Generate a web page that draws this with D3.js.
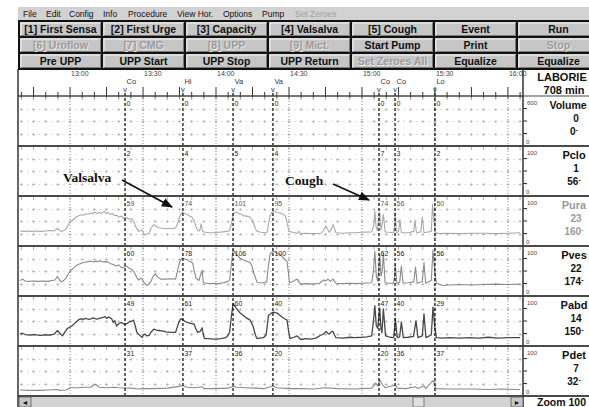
<!DOCTYPE html>
<html><head><meta charset="utf-8">
<script src="https://cdn.jsdelivr.net/npm/d3@7/dist/d3.min.js"></script>
<style>
html,body{margin:0;padding:0;background:#fff;overflow:hidden;}
svg{display:block;font-family:Arial,"Liberation Sans",sans-serif;}
</style></head><body>
<svg id="chart" width="589" height="407"></svg>
<script>
// ---------- data ----------
const menuItems = ["File","Edit","Config","Info","Procedure","View Hor.","Options","Pump","Set Zeroes"];
const menuX = [23,46,69,103,128,177,223,262,295];
const menuEnabled = [1,1,1,1,1,1,1,1,0];

const buttonRows = [
  ["[1] First Sensa","[2] First Urge","[3] Capacity","[4] Valsalva","[5] Cough","Event","Run"],
  ["[6] Uroflow","[7] CMG","[8] UPP","[9] Mict.","Start Pump","Print","Stop"],
  ["Pre UPP","UPP Start","UPP Stop","UPP Return","Set Zeroes All","Equalize","Equalize"]
];
const buttonEnabled = [[1,1,1,1,1,1,1],[0,0,0,0,1,1,0],[1,1,1,1,0,1,1]];

// time axis, minutes after 12:00
const timeDomain = [38.6, 246.2];
const timeTicks = [60, 90, 120, 150, 180, 210, 240];
const timeLabels = ["13:00","13:30","14:00","14:30","15:00","15:30","16:00"];

// event marks
const eventMinutes = [82.6, 106.4, 127.0, 143.4, 187.0, 193.6, 210.0];
const eventCodes = ["Co","Hi","Va","Va","Co","Co","Lo"];

// channels
const channelNames = ["Volume","Pclo","Pura","Pves","Pabd","Pdet"];
const channelMax = [600,100,100,100,100,100];
const channelNow = ["0","1","23","22","14","7"];
const channelPeak = ["0","56","160","174","150","32"];
const eventValues = [
  [0,0,0,0,0,0,0],
  [2,4,5,4,7,3,2],
  [59,74,101,95,74,56,50],
  [60,78,106,100,62,56,56],
  [49,61,60,40,47,40,29],
  [31,37,36,20,20,36,37]
];

// pressure traces: [minutes after 12:00, cmH2O]
const pura = [[39.4,29],[41,28],[42.5,29],[44,28],[46,29],[48,28],[50,29],[52,30],[53.5,29],[54.8,35],[55.5,31],[56.3,28],[57.5,30],[58.4,34],[59.2,42],[60.4,50],[61.5,55],[62.5,60],[63.5,63],[64.5,65],[65.5,64],[66.5,67],[67.5,66],[68.5,69],[69.3,67],[70.1,71],[71,68],[72,70],[73,68],[74,73],[74.8,68],[75.6,70],[76.5,66],[77.5,67],[78.3,63],[79.1,64],[80,60],[81.2,62],[82,57],[83.3,59],[84.3,55],[85.4,56],[86.2,50],[86.9,39],[87.6,33],[88.2,28],[89,30],[89.6,31],[90.3,24],[90.8,20],[91.6,22],[92.5,24],[93.3,35],[94.4,43],[95.2,40],[96.6,36],[97.8,35],[99.3,34],[100.5,35],[102,34],[103.4,36],[104.2,45],[104.8,57],[105.5,66],[106.2,71],[107,68],[108,66],[108.9,63],[110,60],[111.0,52],[111.8,38],[112.5,30],[113.3,29],[113.9,45],[114.5,28],[115.5,26],[117.3,25],[119,25],[121,26],[122.9,27],[124.5,28],[125.6,30],[126.3,45],[127.0,65],[127.7,70],[128.4,71],[129.5,67],[130.5,66],[131.1,63],[132.5,62],[134.0,60],[134.7,55],[135.2,50],[136.1,35],[136.9,28],[138.5,26],[140,25],[141.0,26],[141.6,45],[142.2,62],[143.0,70],[143.7,73],[145,70],[146.3,69],[147.5,66],[148.6,62],[149.3,45],[150.0,28],[151.5,26],[153.4,24],[154.0,28],[154.8,23],[157,24],[160,23],[163.2,24],[164.2,30],[165.2,40],[166,31],[166.6,26],[167.4,33],[168.1,43],[168.8,33],[169.3,25],[172,24],[175,25],[177.0,25],[180,26],[184.0,27],[184.8,40],[185.3,73],[185.8,38],[186.3,30],[186.8,55],[187.3,70],[187.8,32],[188.3,45],[188.8,66],[189.5,27],[191,26],[193.0,25],[193.4,40],[193.7,70],[194.2,25],[195.1,28],[195.6,55],[196.2,25],[199,25],[201.3,28],[201.8,53],[202.4,25],[204.2,27],[204.8,60],[205.5,25],[208.5,28],[209.0,88],[209.6,50],[210.3,25],[211.7,23],[215,24],[220,23],[225,24],[230,24],[235,23],[240,24],[245.0,25]];

const pves = [[39.4,30],[40.5,33],[41.5,29],[43,28],[45,29],[47,28],[49,29],[51,28],[52.5,30],[53.8,31],[54.8,39],[55.6,32],[56.3,27],[57.4,30],[58.4,36],[59.3,45],[60.4,53],[61.5,58],[62.5,63],[63.5,66],[64.5,68],[65.5,70],[66.5,71],[67.5,72],[68.6,73],[69.5,71],[70.5,73],[71.5,72],[72.5,74],[73.5,71],[74.5,72],[75.6,71],[76.5,68],[77.5,66],[78.3,64],[79.1,62],[80,65],[81.2,58],[82.2,60],[83.3,62],[84.3,57],[85.4,55],[86.2,50],[86.7,45],[87.5,36],[88.2,31],[89,35],[89.6,33],[90.6,24],[91.6,19],[92.4,22],[93.2,28],[94.2,40],[95.1,45],[96,38],[97.2,33],[99.3,33],[101,34],[103.4,33],[104.1,50],[104.8,66],[105.5,76],[106.2,80],[107.2,78],[108.3,76],[109.3,72],[110.4,69],[111.1,50],[111.8,35],[113.0,30],[113.8,45],[114.3,53],[114.8,25],[116,24],[117.3,23],[119,24],[121,23],[122.9,25],[124.5,27],[125.6,31],[126.3,65],[127.0,98],[127.7,93],[128.4,88],[129.8,80],[131.1,76],[132.5,73],[134.0,70],[134.8,62],[135.6,45],[136.9,26],[138,25],[139.5,25],[140.8,27],[141.5,60],[142.2,88],[143.0,93],[143.7,95],[145,91],[146.3,88],[147.8,80],[149.2,72],[149.7,50],[150.2,25],[151.3,27],[152.5,31],[153.4,33],[154.1,27],[154.8,22],[157,23],[160,22],[162.5,24],[164.4,31],[165.2,29],[166.0,33],[167,28],[168.1,33],[169.3,24],[172,23],[175,24],[177.0,23],[180,24],[184.0,25],[184.8,55],[185.3,95],[185.9,40],[186.5,28],[186.9,60],[187.3,88],[187.8,40],[188.3,50],[188.8,91],[189.5,25],[191,24],[193.0,24],[193.4,40],[193.7,66],[194.3,24],[195.5,26],[196.2,62],[196.9,24],[199,25],[201.3,27],[202.0,60],[202.7,24],[204.8,28],[205.5,70],[206.2,24],[208.5,30],[209.2,98],[209.9,50],[210.6,24],[213.1,19],[216,20],[220,21],[225,20],[230,21],[235,22],[240,21],[245.0,22]];

const pabd = [[39.4,22],[40.5,24],[41.5,21],[43.6,20],[45.5,21],[47.7,19],[49.5,20],[51.8,20],[53.5,22],[54.8,30],[55.8,24],[56.9,18],[57.9,27],[59.0,35],[60.2,38],[61.2,42],[62.3,48],[63.5,54],[64.5,56],[65.5,55],[66.5,57],[67.5,55],[68.6,56],[69.4,58],[70.1,57],[71,55],[72,57],[72.8,58],[73.6,59],[74.3,61],[75,57],[75.8,60],[76.5,58],[77.1,56],[77.8,48],[78.4,52],[79.1,40],[80,45],[81.2,48],[82.2,44],[83.3,45],[84.5,50],[85.4,51],[86.1,53],[86.8,40],[87.5,25],[88.5,20],[89.6,15],[90.2,20],[90.8,22],[91.6,18],[92.5,19],[93.5,28],[94.5,33],[95.5,31],[96.6,30],[97.8,29],[99.5,27],[101.5,26],[103.4,26],[104.1,38],[104.8,50],[105.5,56],[106.2,55],[107.2,50],[108.3,48],[109.5,46],[111.0,44],[111.6,35],[112.4,26],[113.5,28],[114.3,36],[114.8,20],[115.2,12],[117,12],[118.5,11],[120.0,11],[122,12],[124.1,14],[125,20],[125.6,26],[126.3,60],[127.0,90],[127.7,84],[128.4,79],[129.7,70],[131.1,64],[132.5,58],[134.0,53],[135.2,40],[136.2,20],[136.8,12],[138,13],[139.5,14],[140.6,20],[141.6,64],[142.6,68],[143.7,71],[145.4,68],[147.1,60],[148.2,56],[149.2,53],[149.8,30],[150.4,12],[152,15],[153.4,18],[154.1,14],[154.8,10],[157,12],[159,11],[161,13],[163.2,20],[164.2,22],[165.2,28],[165.9,24],[166.5,22],[167.3,27],[168.1,28],[168.7,20],[169.3,14],[172,13],[175,15],[177.0,14],[180,15],[182,16],[184.0,18],[184.7,50],[185.3,85],[185.9,40],[186.5,35],[186.9,60],[187.3,80],[187.8,35],[188.2,25],[188.5,50],[188.8,78],[189.7,18],[191.5,15],[193.0,14],[193.4,35],[193.7,57],[194.5,14],[195.5,16],[196.2,49],[197.0,14],[199,15],[201.2,17],[202.2,52],[203,14],[204.8,18],[205.5,67],[206.3,14],[208.5,20],[209.2,82],[209.9,40],[210.6,14],[213,13],[216,14],[220,13],[224,14],[228,13],[232,15],[236,13],[240,14],[245.0,14]];

const pdet = [[39.4,9],[43,8],[47.7,8],[51,9],[54.8,10],[56,8],[58.4,9],[59.5,12],[60.4,14],[63,14],[66,15],[68.6,15],[69.5,20],[70.6,21],[72,15],[75,14],[78,15],[80,14],[85,13],[88,11],[90,12],[94,12],[100,13],[104.8,17],[106.2,19],[108,15],[111,14],[114.3,16],[115,12],[120,12],[125,13],[127,17],[128.5,15],[132,14],[136,13],[140,12],[143.5,18],[145,14],[150,12],[155,12],[160,11],[165,14],[170,12],[177,11],[184,13],[185.6,24],[186.5,18],[187.3,31],[188.5,20],[189.5,14],[193.7,20],[194.5,13],[198,12],[202,16],[203,12],[205.5,18],[206.2,12],[209.2,30],[210.5,12],[215,11],[220,11],[225,11],[232,10],[238,11],[245,10]];

const traces = [
  {channel:"Pura", values:pura, color:"#a9a9a9", width:1.1},
  {channel:"Pves", values:pves, color:"#8a8a8a", width:1.1},
  {channel:"Pabd", values:pabd, color:"#484848", width:1.3},
  {channel:"Pdet", values:pdet, color:"#8a8a8a", width:1.1}
];

// ---------- layout ----------
const svg = d3.select("#chart");
const plotLeft = 18, plotRight = 523, panelRight = 589;
const x = d3.scaleLinear().domain(timeDomain).range([plotLeft, plotRight]);
const band = d3.scaleBand().domain(channelNames).range([96, 396]).paddingInner(0);
const yFor = (i) => d3.scaleLinear().domain([0, channelMax[i]])
  .range([band(channelNames[i]) + 48, band(channelNames[i]) + 3]);

// ---------- menu bar ----------
svg.append("rect").attr("x", 18).attr("y", 7).attr("width", 571).attr("height", 13).attr("fill", "#d2d2d2");
svg.selectAll("text.menu").data(menuItems).join("text")
  .attr("class", "menu")
  .attr("x", (d, i) => menuX[i]).attr("y", 17)
  .attr("font-size", 8.5)
  .attr("fill", (d, i) => menuEnabled[i] ? "#111" : "#a0a0a0")
  .text(d => d);

// ---------- button panel ----------
const bx = d3.scaleBand().domain(d3.range(7)).range([19, 19 + 83 * 7]);
const by = d3.scaleBand().domain(d3.range(3)).range([21, 69]);
buttonRows.forEach((row, r) => {
  row.forEach((label, c) => {
    const g = svg.append("g");
    const X = bx(c), Y = by(r), w = bx.bandwidth(), h = by.bandwidth();
    g.append("rect").attr("x", X).attr("y", Y).attr("width", w).attr("height", h)
      .attr("fill", "#c6c6c6").attr("stroke", "#111").attr("stroke-width", 2);
    g.append("path").attr("d", `M${X+2},${Y+h-2}V${Y+2}H${X+w-2}`)
      .attr("fill", "none").attr("stroke", "#f4f4f4").attr("stroke-width", 1);
    g.append("path").attr("d", `M${X+2},${Y+h-1.5}H${X+w-1.5}V${Y+2}`)
      .attr("fill", "none").attr("stroke", "#7a7a7a").attr("stroke-width", 1);
    const on = buttonEnabled[r][c];
    if (!on) {
      g.append("text").attr("x", X + w/2 + 0.8).attr("y", Y + h/2 + 4.6)
        .attr("text-anchor", "middle").attr("font-size", 10.5).attr("font-weight", "bold")
        .attr("fill", "#ececec").text(label);
    }
    g.append("text").attr("x", X + w/2).attr("y", Y + h/2 + 3.8)
      .attr("text-anchor", "middle").attr("font-size", 10.5).attr("font-weight", "bold")
      .attr("fill", on ? "#111" : "#9a9a9a").text(label);
  });
});

// ---------- plot frame ----------
svg.append("rect").attr("x", plotLeft).attr("y", 70).attr("width", panelRight - plotLeft).attr("height", 326).attr("fill", "#fff");

// time labels
svg.selectAll("text.time").data(timeTicks).join("text")
  .attr("class", "time")
  .attr("x", d => x(d) + 1).attr("y", 76)
  .attr("font-size", 7).attr("fill", "#444")
  .text((d, i) => timeLabels[i]);

// axis ticks every 5 minutes
const minuteTicks = d3.range(40, 246, 5);
svg.append("line").attr("x1", plotLeft).attr("x2", plotRight).attr("y1", 96).attr("y2", 96)
  .attr("stroke", "#444").attr("stroke-width", 1.2);
svg.selectAll("line.mtick").data(minuteTicks).join("line")
  .attr("class", "mtick")
  .attr("x1", d => x(d)).attr("x2", d => x(d))
  .attr("y1", d => d % 15 === 0 ? 87 : 92).attr("y2", 98)
  .attr("stroke", "#333").attr("stroke-width", 1);

// event codes above the axis
svg.selectAll("text.ecode").data(eventMinutes).join("text")
  .attr("class", "ecode")
  .attr("x", d => x(d) + 1.5).attr("y", 84)
  .attr("font-size", 7.5).attr("fill", "#333")
  .text((d, i) => eventCodes[i]);
svg.selectAll("text.ev").data(eventMinutes).join("text")
  .attr("class", "ev")
  .attr("x", d => x(d)).attr("y", 91.5)
  .attr("text-anchor", "middle").attr("font-size", 7.5).attr("fill", "#333")
  .text("v");

// ---------- channel grids ----------
channelNames.forEach((name, i) => {
  const top = band(name), h = band.bandwidth();
  const g = svg.append("g");
  // vertical dotted gridlines every 30 minutes
  g.selectAll("line.vg").data(timeTicks).join("line")
    .attr("x1", d => x(d)).attr("x2", d => x(d))
    .attr("y1", top + 2).attr("y2", top + h - 1)
    .attr("stroke", "#8a8a8a").attr("stroke-width", 1).attr("stroke-dasharray", "1,2");
  // horizontal rows of grid marks
  [0.25, 0.5, 0.75].forEach(f => {
    const yy = Math.round(top + h * f) + 0.5;
    g.selectAll(null).data(minuteTicks).join("path")
      .attr("d", d => `M${x(d)-1.5},${yy}H${x(d)+1.5}M${x(d)},${yy-1.5}V${yy+1.5}`)
      .attr("stroke", "#b0b0b0").attr("stroke-width", 0.8).attr("fill", "none");
    g.selectAll(null).data(minuteTicks).join("rect")
      .attr("x", d => x(d + 2.5) - 0.5).attr("y", yy - 0.5).attr("width", 1).attr("height", 1)
      .attr("fill", "#c0c0c0");
  });
  // small ticks along the channel top
  g.selectAll(null).data(minuteTicks).join("line")
    .attr("x1", d => x(d)).attr("x2", d => x(d))
    .attr("y1", top + 1).attr("y2", top + 4)
    .attr("stroke", "#999").attr("stroke-width", 0.8);
});

// ---------- traces ----------
traces.forEach(t => {
  const i = channelNames.indexOf(t.channel);
  const y = yFor(i);
  const line = d3.line().x(d => x(d[0])).y(d => y(d[1]));
  svg.append("path").datum(t.values)
    .attr("d", line)
    .attr("fill", "none").attr("stroke", t.color).attr("stroke-width", t.width)
    .attr("stroke-linejoin", "round");
});

// ---------- event lines ----------
svg.selectAll("line.event").data(eventMinutes).join("line")
  .attr("class", "event")
  .attr("x1", d => x(d)).attr("x2", d => x(d))
  .attr("y1", 93).attr("y2", 396)
  .attr("stroke", "#151515").attr("stroke-width", 1.3).attr("stroke-dasharray", "3,2");

// event values at each channel top
channelNames.forEach((name, i) => {
  const top = band(name);
  svg.selectAll(null).data(eventMinutes).join("text")
    .attr("x", d => x(d) + 1.5).attr("y", top + 10)
    .attr("font-size", 7).attr("fill", i === 2 ? "#555" : "#222")
    .text((d, k) => eventValues[i][k]);
});

// channel separators
band.domain().forEach(name => {
  const top = band(name);
  svg.append("line").attr("x1", plotLeft).attr("x2", panelRight).attr("y1", top).attr("y2", top)
    .attr("stroke", "#4a4a4a").attr("stroke-width", name === "Volume" ? 1.2 : 2.2);
});
svg.append("line").attr("x1", plotLeft).attr("x2", panelRight).attr("y1", 396).attr("y2", 396)
  .attr("stroke", "#4a4a4a").attr("stroke-width", 2);

// plot borders
svg.append("line").attr("x1", plotLeft).attr("x2", plotLeft).attr("y1", 69).attr("y2", 407)
  .attr("stroke", "#333").attr("stroke-width", 1.5);
svg.append("line").attr("x1", plotRight).attr("x2", plotRight).attr("y1", 69).attr("y2", 407)
  .attr("stroke", "#333").attr("stroke-width", 1.5);

// ---------- right panel ----------
svg.append("text").attr("x", 562).attr("y", 81).attr("text-anchor", "middle")
  .attr("font-size", 11).attr("font-weight", "bold").attr("fill", "#111").text("LABORIE");
svg.append("text").attr("x", 564).attr("y", 93.5).attr("text-anchor", "middle")
  .attr("font-size", 11).attr("font-weight", "bold").attr("fill", "#111").text("708 min");

channelNames.forEach((name, i) => {
  const top = band(name), h = band.bandwidth();
  const col = i === 2 ? "#9a9a9a" : "#111";
  const g = svg.append("g");
  g.selectAll(null).data([0.25, 0.5, 0.75]).join("line")
    .attr("x1", plotRight).attr("x2", plotRight + 4)
    .attr("y1", f => top + h * f).attr("y2", f => top + h * f)
    .attr("stroke", "#333").attr("stroke-width", 1);
  g.append("text").attr("x", 527).attr("y", top + 9).attr("font-size", 6).attr("fill", "#444")
    .text(channelMax[i]);
  g.append("text").attr("x", 526).attr("y", top + h - 2).attr("font-size", 6).attr("fill", "#444")
    .text("0");
  g.append("text").attr("x", name === "Volume" ? 568 : 574).attr("y", top + 13).attr("text-anchor", "middle")
    .attr("font-size", name === "Volume" ? 10.5 : 11).attr("font-weight", "bold").attr("fill", col).text(name);
  g.append("text").attr("x", 576).attr("y", top + 26).attr("text-anchor", "middle")
    .attr("font-size", 10).attr("font-weight", "bold").attr("fill", col).text(channelNow[i]);
  const pk = g.append("text").attr("x", 574).attr("y", top + 39).attr("text-anchor", "middle")
    .attr("font-size", 10).attr("font-weight", "bold").attr("fill", col);
  pk.append("tspan").text(channelPeak[i]);
  pk.append("tspan").attr("dy", -3).attr("font-size", 7).text("-");
});

// ---------- scroll bar ----------
svg.append("rect").attr("x", 19).attr("y", 397).attr("width", 504).attr("height", 10).attr("fill", "#d3d3d3");
[[19, "◄"], [511, "►"]].forEach(([bxp, glyph]) => {
  svg.append("rect").attr("x", bxp).attr("y", 397).attr("width", 12).attr("height", 10)
    .attr("fill", "#c6c6c6").attr("stroke", "#555").attr("stroke-width", 0.8);
  svg.append("text").attr("x", bxp + 6).attr("y", 405).attr("text-anchor", "middle")
    .attr("font-size", 7).attr("fill", "#111").text(glyph);
});
svg.append("rect").attr("x", 413).attr("y", 397).attr("width", 11).attr("height", 10)
  .attr("fill", "#e0e0e0").attr("stroke", "#666").attr("stroke-width", 0.8);
svg.append("text").attr("x", 537).attr("y", 405.5).attr("font-size", 10.5).attr("font-weight", "bold")
  .attr("fill", "#111").text("Zoom 100");

// ---------- annotations ----------
svg.append("defs").append("marker").attr("id", "arrow").attr("viewBox", "0 0 10 10")
  .attr("refX", 9).attr("refY", 5).attr("markerWidth", 7).attr("markerHeight", 7)
  .attr("orient", "auto").append("path").attr("d", "M0,1L10,5L0,9Z").attr("fill", "#111");
const notes = [
  {text:"Valsalva", tx:63, ty:182, x1:122, y1:180, x2:172, y2:207},
  {text:"Cough", tx:285, ty:185, x1:333, y1:184, x2:369, y2:200}
];
notes.forEach(n => {
  svg.append("text").attr("x", n.tx).attr("y", n.ty)
    .attr("font-family", "'Liberation Serif','Times New Roman',serif")
    .attr("font-size", 13.5).attr("font-weight", "bold").attr("fill", "#111").text(n.text);
  svg.append("line").attr("x1", n.x1).attr("y1", n.y1).attr("x2", n.x2).attr("y2", n.y2)
    .attr("stroke", "#111").attr("stroke-width", 1.6).attr("marker-end", "url(#arrow)");
});
</script>
</body></html>
